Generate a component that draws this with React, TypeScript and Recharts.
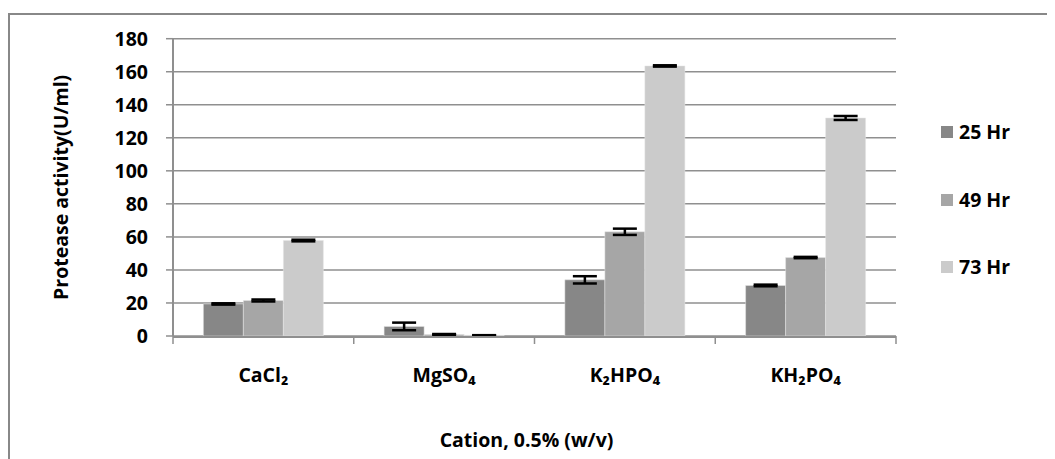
import { BarChart, Bar, XAxis, YAxis, CartesianGrid, ErrorBar, Label } from 'recharts';

// categories and series
const cations = ['CaCl₂', 'MgSO₄', 'K₂HPO₄', 'KH₂PO₄'];
const hr25 = [19.4, 5.8, 34.0, 30.6];
const hr25Err = [0.4, 2.3, 2.2, 0.5];
const hr49 = [21.5, 0.9, 63.1, 47.5];
const hr49Err = [0.6, 0.3, 1.9, 0.4];
const hr73 = [57.8, 0.4, 163.5, 132.0];
const hr73Err = [0.5, 0.1, 0.4, 1.2];
const yTicks = [0, 20, 40, 60, 80, 100, 120, 140, 160, 180];
const edgeTicks = [0, 1, 2, 3, 4];

const series = [
  { key: 'h25', err: 'e25', name: '25 Hr', color: '#878787' },
  { key: 'h49', err: 'e49', name: '49 Hr', color: '#a6a6a6' },
  { key: 'h73', err: 'e73', name: '73 Hr', color: '#cbcbcb' },
];

const data = cations.map((c, i) => ({
  name: c,
  x: i + 0.5,
  h25: hr25[i], e25: hr25Err[i],
  h49: hr49[i], e49: hr49Err[i],
  h73: hr73[i], e73: hr73Err[i],
}));

const FONT = '"Open Sans", sans-serif';
const GRID = '#8f8f8f';
const tickStyle = { fill: '#000', fontSize: 19.5, fontWeight: 700, fontFamily: FONT };

export default function App() {
  return (
    <div style={{ position: 'relative', width: 1047, height: 451, overflow: 'hidden', fontFamily: FONT }}>
      {/* chart frame, only top/left edges show in the crop */}
      <div style={{
        position: 'absolute', left: 0, top: 5, width: 1200, height: 600,
        borderTop: '2px solid #888', borderLeft: '2px solid #888',
      }} />
      <div style={{ position: 'absolute', left: 0, top: 0 }}>
        <BarChart
          width={1047}
          height={445}
          data={data}
          margin={{ top: 30.7, right: 159, left: 0, bottom: 0 }}
          barCategoryGap="16.8%"
          barGap={0}
        >
          <CartesianGrid xAxisId="cat" vertical={false} stroke={GRID} strokeWidth={1.5} />
          {/* boundary ticks between categories, Excel style */}
          <XAxis
            xAxisId={0}
            type="number"
            dataKey="x"
            domain={[0, 4]}
            ticks={edgeTicks}
            interval={0}
            height={1}
            axisLine={false}
            tick={() => null}
            tickSize={8}
            tickLine={{ stroke: GRID, strokeWidth: 1.5 }}
          />
          <XAxis
            xAxisId="cat"
            dataKey="name"
            height={116}
            axisLine={{ stroke: GRID, strokeWidth: 2 }}
            tickLine={false}
            tickSize={7}
            tickMargin={24}
            tick={tickStyle}
            interval={0}
          >
            <Label
              value="Cation, 0.5% (w/v)"
              position="insideBottom"
              offset={6}
              dx={-8}
              style={{ fill: '#000', fontSize: 19.5, fontWeight: 700, fontFamily: FONT }}
            />
          </XAxis>
          <YAxis
            width={165}
            domain={[0, 180]}
            ticks={yTicks}
            interval={0}
            axisLine={{ stroke: GRID, strokeWidth: 2 }}
            tickLine={{ stroke: GRID, strokeWidth: 1.5 }}
            tickSize={7}
            tickMargin={18}
            tick={tickStyle}
          >
            <Label
              value="Protease activity(U/ml)"
              angle={-90}
              position="insideLeft"
              offset={53}
              style={{ textAnchor: 'middle', fill: '#000', fontSize: 19.5, fontWeight: 700, fontFamily: FONT }}
            />
          </YAxis>
          {series.map(s => (
            <Bar key={s.key} xAxisId="cat" dataKey={s.key} name={s.name} fill={s.color} stroke="#e6e6e6" strokeWidth={0.5} isAnimationActive={false}>
              <ErrorBar dataKey={s.err} width={12} stroke="#000" strokeWidth={2.5} direction="y" />
            </Bar>
          ))}
        </BarChart>
      </div>
      {/* legend */}
      <div style={{ position: 'absolute', left: 933, top: 112 }}>
        {series.map(s => (
          <div key={s.key} style={{ display: 'flex', alignItems: 'center', height: 24, marginBottom: 43.5 }}>
            <span style={{ display: 'inline-block', width: 12, height: 12, background: s.color, marginRight: 6 }} />
            <span style={{ fontSize: 19.5, fontWeight: 700, color: '#000', lineHeight: '24px' }}>{s.name}</span>
          </div>
        ))}
      </div>
    </div>
  );
}
